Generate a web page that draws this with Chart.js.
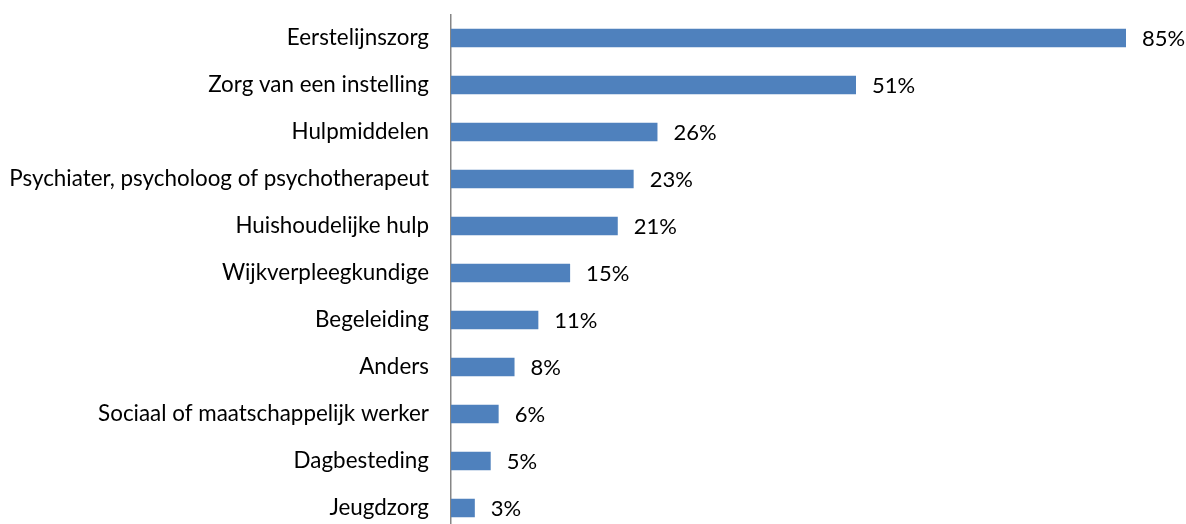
<!DOCTYPE html>
<html>
<head>
<meta charset="utf-8">
<script src="https://cdn.jsdelivr.net/npm/chart.js@4"></script>
<style>
  body { margin: 0; overflow: hidden; background: #fff; }
</style>
</head>
<body>
<canvas id="myChart" width="1186" height="540"></canvas>
<script>
const categories = ['Eerstelijnszorg', 'Zorg van een instelling', 'Hulpmiddelen', 'Psychiater, psycholoog of psychotherapeut', 'Huishoudelijke hulp', 'Wijkverpleegkundige', 'Begeleiding', 'Anders', 'Sociaal of maatschappelijk werker', 'Dagbesteding', 'Jeugdzorg'];
const values = [85, 51, 26, 23, 21, 15, 11, 8, 6, 5, 3];

const valueLabels = {
    id: 'valueLabels',
    afterDatasetsDraw(chart) {
        const ctx = chart.ctx;
        const meta = chart.getDatasetMeta(0);
        ctx.save();
        ctx.font = '22px Lato';
        ctx.fillStyle = '#000';
        ctx.textAlign = 'left';
        ctx.textBaseline = 'middle';
        meta.data.forEach((bar, i) => {
            ctx.fillText(values[i] + '%', bar.x + 16, bar.y + 1);
        });
        ctx.restore();
    }
};

const ctx = document.getElementById('myChart').getContext('2d');
const chart = new Chart(ctx, {
    type: 'bar',
    data: {
        labels: categories,
        datasets: [{
            data: values,
            backgroundColor: '#4F81BD',
            barPercentage: 0.39,
            categoryPercentage: 1
        }]
    },
    options: {
        indexAxis: 'y',
        responsive: false,
        animation: false,
        devicePixelRatio: 1,
        layout: { padding: { left: 0, right: 60, top: 14.5, bottom: 8.5 } },
        plugins: { legend: { display: false }, tooltip: { enabled: false } },
        scales: {
            x: { display: false, min: 0, max: 85 },
            y: {
                afterFit: (scale) => {
                    scale.width = 451;
                    scale.paddingTop = 0;
                    scale.paddingBottom = 0;
                },
                grid: { display: false },
                border: { display: true, color: '#868686', width: 1.5 },
                ticks: { color: '#000', font: { family: 'Lato', size: 22.4 }, padding: 14 }
            }
        }
    },
    plugins: [valueLabels]
});
</script>
</body>
</html>
